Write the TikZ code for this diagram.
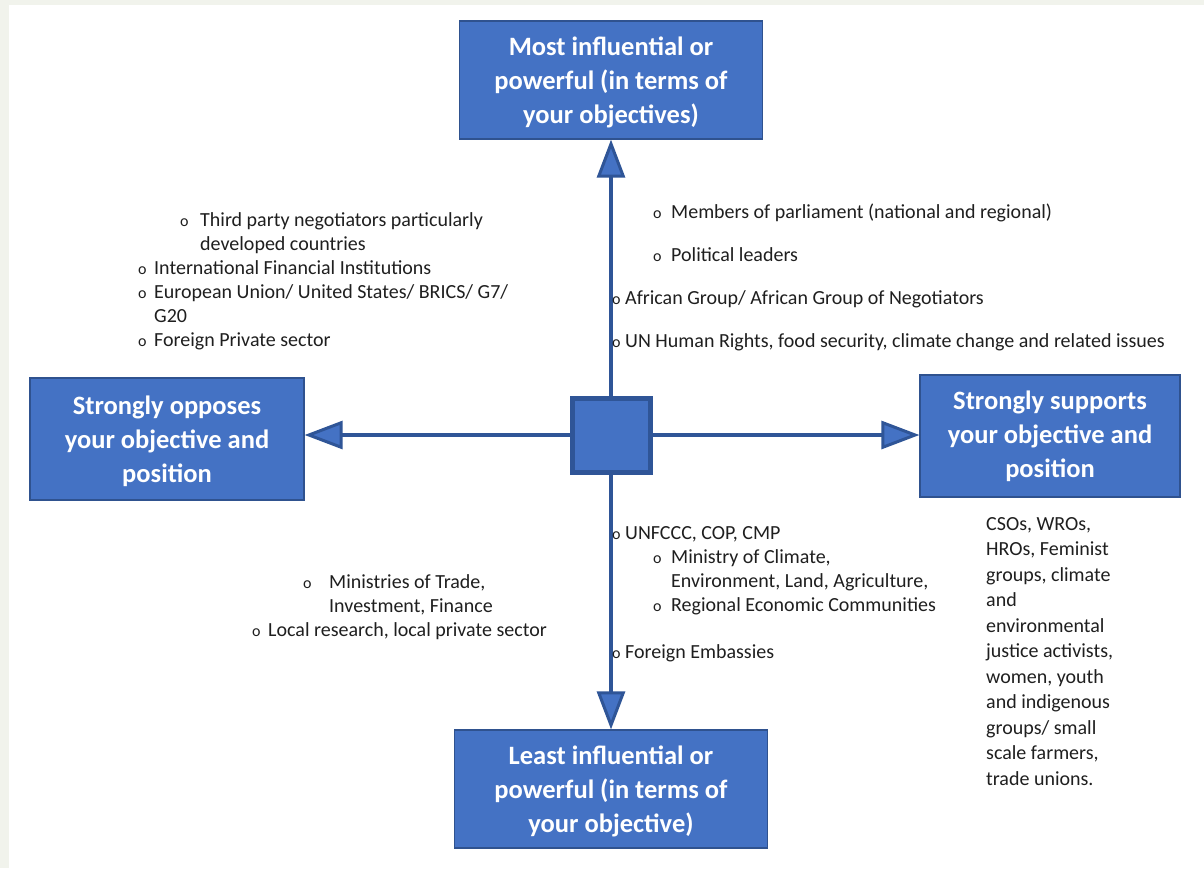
\documentclass[tikz,border=0pt]{standalone}
\usepackage{fontspec}
\setmainfont{Carlito}
\usetikzlibrary{arrows.meta}

\definecolor{boxblue}{HTML}{4472C4}
\definecolor{boxedge}{HTML}{2F528F}
\definecolor{axisblue}{HTML}{2F5597}
\definecolor{ink}{HTML}{1F1F1F}
\definecolor{paper}{HTML}{F1F3EC}

% hollow bullet hung to the left of an item's first line
\newcommand\bulo[1]{\llap{\makebox[#1][l]{\fontsize{16}{16}\selectfont o}}}

\begin{document}
\begin{tikzpicture}[x=1pt,y=-1pt,
  quad/.style={draw=boxedge, line width=1.2pt, fill=boxblue, text=white,
    font=\bfseries\fontsize{26.5}{34}\selectfont, align=center, inner sep=0pt},
  hub/.style={draw=axisblue, line width=5pt, fill=boxblue,
    minimum width=78pt, minimum height=74pt, inner sep=0pt},
  axis/.style={draw=axisblue, line width=4.5pt,
    -{Triangle[width=28pt,length=38pt,line width=3pt,fill=boxblue]}},
  item/.style={anchor=base west, inner sep=0pt, text=ink,
    font=\fontsize{20}{24}\selectfont, align=left}]

\fill[paper] (0,0) rectangle (1204,868);
\fill[white] (9,5) rectangle (1204,868);
\useasboundingbox (0,0) rectangle (1204,868);

% the four poles and the hub
\node[quad, minimum width=303pt, minimum height=118pt] (most) at (611,80)
  {\rule{0pt}{24pt}Most influential or\\powerful (in terms of\\your objectives)};
\node[quad, minimum width=313pt, minimum height=118pt] (least) at (611,789)
  {\rule{0pt}{24pt}Least influential or\\powerful (in terms of\\your objective)};
\node[quad, minimum width=274pt, minimum height=122pt] (oppose) at (167,439)
  {\rule{0pt}{24pt}Strongly opposes\\your objective and\\position};
\node[quad, minimum width=260pt, minimum height=122pt] (support) at (1050,436)
  {\rule{0pt}{18pt}Strongly supports\\your objective and\\position};
\node[hub] (hub) at (611,435) {};

% axes
\draw[axis] (hub.north) -- (most.south);
\draw[axis] (hub.south) -- (least.north);
\draw[axis] (hub.west) -- (oppose.east |- hub.west);
\draw[axis] (hub.east) -- (support.west |- hub.east);

% upper left quadrant (multi-line items are placed by their last baseline)
\node[item] (tp) at (200,250) {\bulo{20pt}Third party negotiators particularly\\developed countries};
\node[item] (ifi) at (154,274) {\bulo{16pt}International Financial Institutions};
\node[item] (eu) at (154,322) {\bulo{16pt}European Union/ United States/ BRICS/ G7/\\G20};
\node[item] (fps) at (154,346) {\bulo{16pt}Foreign Private sector};

% upper right quadrant
\node[item] (mp) at (671,218) {\bulo{18pt}Members of parliament (national and regional)};
\node[item] (pl) at (671,261) {\bulo{18pt}Political leaders};
\node[item] (ag) at (625,304) {\bulo{13pt}African Group/ African Group of Negotiators};
\node[item] (un) at (625,347) {\bulo{13pt}UN Human Rights, food security, climate change and related issues};

% lower right quadrant
\node[item] (unf) at (625,539) {\bulo{13pt}UNFCCC, COP, CMP};
\node[item] (moc) at (671,587) {\bulo{18pt}Ministry of Climate,\\Environment, Land, Agriculture,};
\node[item] (rec) at (671,611) {\bulo{18pt}Regional Economic Communities};
\node[item] (fe) at (625,658) {\bulo{13pt}Foreign Embassies};

% lower left quadrant
\node[item] (mot) at (329,612) {\bulo{26pt}Ministries of Trade,\\Investment, Finance};
\node[item] (lr) at (268,636) {\bulo{16pt}Local research, local private sector};

% supporters
\node[item, font=\fontsize{20}{25.5}\selectfont] (cso) at (986,785)
  {CSOs, WROs,\\HROs, Feminist\\groups, climate\\and\\environmental\\justice activists,\\women, youth\\and indigenous\\groups/ small\\scale farmers,\\trade unions.};

\end{tikzpicture}
\end{document}
